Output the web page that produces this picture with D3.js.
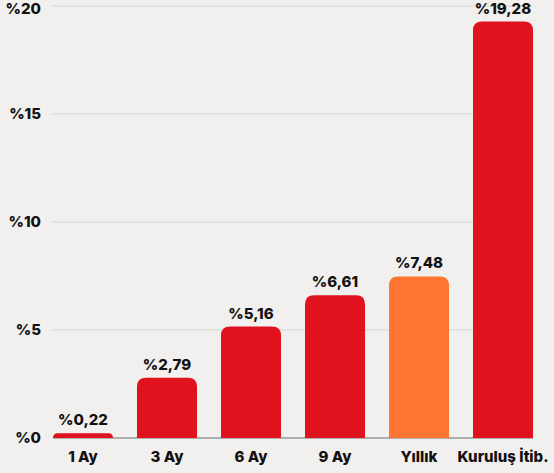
<!DOCTYPE html>
<html>
<head>
<meta charset="utf-8">
<script src="https://cdn.jsdelivr.net/npm/d3@7"></script>
<style>
  body { margin: 0; background: #f1f0ee; }
  svg { display: block; font-family: "Inter", "Noto Sans", sans-serif; }
</style>
</head>
<body>
<div id="chart"></div>
<script>
var categories = ["1 Ay", "3 Ay", "6 Ay", "9 Ay", "Yıllık", "Kuruluş İtib."];
var values = [0.22, 2.79, 5.16, 6.61, 7.48, 19.28];
var labels = ["%0,22", "%2,79", "%5,16", "%6,61", "%7,48", "%19,28"];
var highlight = ["Yıllık"];
var yTicks = [0, 5, 10, 15, 20];

function init() {
    var width = 554;
    var height = 473;
    var left = 53, right = 533, top = 6, bottom = 438;

    var svg = d3.select("#chart")
                .append("svg")
                .attr("width", width)
                .attr("height", height);

    var xScale = d3.scaleBand()
                   .domain(categories)
                   .range([left, right])
                   .paddingInner(0.2857)
                   .paddingOuter(0);

    var yScale = d3.scaleLinear()
                   .domain([0, 20])
                   .range([bottom, top]);

    // grid lines
    svg.append("g")
       .selectAll("line")
       .data(yTicks.filter(function(d) { return d > 0; }))
       .enter()
       .append("line")
       .attr("x1", left)
       .attr("x2", right)
       .attr("y1", function(d) { return yScale(d); })
       .attr("y2", function(d) { return yScale(d); })
       .attr("stroke", "#d6d5d3")
       .attr("stroke-width", 1);

    // y labels
    var yAxis = d3.axisLeft(yScale)
                  .tickValues(yTicks)
                  .tickSize(0)
                  .tickPadding(12)
                  .tickFormat(function(d) { return "%" + d; });

    var gy = svg.append("g")
       .attr("transform", "translate(" + left + ",0)")
       .call(yAxis);
    gy.select(".domain").remove();
    gy.selectAll("text")
      .attr("font-size", 15)
      .attr("font-weight", 800)
      .attr("fill", "#111")
      .attr("font-family", "Inter, 'Noto Sans', sans-serif");
    // keep the top label inside the picture
    gy.selectAll("text")
      .filter(function(d) { return d === 20; })
      .attr("dy", "0.5em");

    // baseline
    svg.append("line")
       .attr("x1", left)
       .attr("x2", right)
       .attr("y1", bottom)
       .attr("y2", bottom)
       .attr("stroke", "#9a9a9a")
       .attr("stroke-width", 1.5);

    var r = 9;
    svg.selectAll("path.bar")
       .data(values)
       .enter()
       .append("path")
       .attr("class", "bar")
       .attr("fill", function(d, i) {
           return highlight.indexOf(categories[i]) >= 0 ? "#fe7431" : "#e0121e";
       })
       .attr("d", function(d, i) {
           var x = xScale(categories[i]);
           var w = xScale.bandwidth();
           var y = yScale(d);
           var h = bottom - y;
           var rr = Math.min(r, h);
           return "M" + x + "," + bottom +
                  "V" + (y + rr) +
                  "Q" + x + "," + y + " " + (x + rr) + "," + y +
                  "H" + (x + w - rr) +
                  "Q" + (x + w) + "," + y + " " + (x + w) + "," + (y + rr) +
                  "V" + bottom + "Z";
       });

    // value labels
    svg.selectAll("text.val")
       .data(values)
       .enter()
       .append("text")
       .attr("class", "val")
       .attr("x", function(d, i) { return xScale(categories[i]) + xScale.bandwidth() / 2; })
       .attr("y", function(d) { return yScale(d) - 8; })
       .attr("text-anchor", "middle")
       .attr("font-size", 15)
       .attr("font-weight", 800)
       .attr("fill", "#111")
       .text(function(d, i) { return labels[i]; });

    // x labels
    var xAxis = d3.axisBottom(xScale)
                  .tickSize(0)
                  .tickPadding(13);
    var gx = svg.append("g")
       .attr("transform", "translate(0," + bottom + ")")
       .call(xAxis);
    gx.select(".domain").remove();
    gx.selectAll("text")
      .attr("font-size", 15)
      .attr("font-weight", 800)
      .attr("fill", "#111")
      .attr("font-family", "Inter, 'Noto Sans', sans-serif");
}

window.onload = init;
</script>
</body>
</html>
